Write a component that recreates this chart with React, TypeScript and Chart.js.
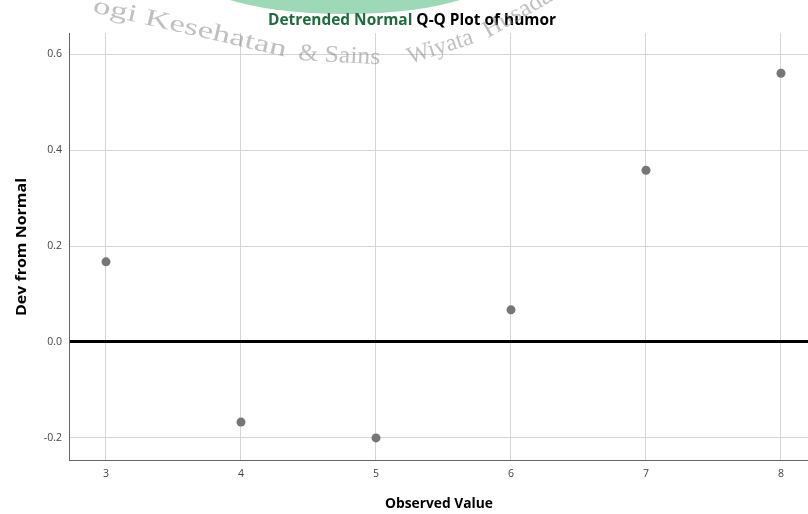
import React, { useEffect, useRef } from "react";
import { Chart, registerables } from "chart.js";

Chart.register(...registerables);

const observed = [3, 4, 5, 6, 7, 8];
const devFromNormal = [0.167, -0.167, -0.2, 0.067, 0.358, 0.56];
const xTicks = [3, 4, 5, 6, 7, 8];
const yTicks = [-0.2, 0, 0.2, 0.4, 0.6];
const yTickLabels = ["-0.2", "0.0", "0.2", "0.4", "0.6"];
const titleGreenPart = "Detrended Normal";
const titleRest = " Q-Q Plot of humor";
const xTitle = "Observed Value";
const yTitle = "Dev from Normal";
const watermarkParts = ["ogi Kesehatan", "& Sains", "Wiyata", "Husada"];

const FONT = '"Open Sans", "DejaVu Sans", sans-serif';

function fitText(ctx: CanvasRenderingContext2D, text: string, x: number, y: number, width: number) {
  const w = ctx.measureText(text).width;
  const s = width / w;
  ctx.save();
  ctx.translate(x, y);
  ctx.scale(s, 1);
  ctx.fillText(text, 0, 0);
  ctx.restore();
}

const decorPlugin = {
  id: "decor",
  afterDraw(chart: any) {
    const ctx = chart.ctx as CanvasRenderingContext2D;
    ctx.save();
    ctx.textBaseline = "alphabetic";
    ctx.textAlign = "left";

    // watermark green crescent
    ctx.save();
    ctx.beginPath();
    ctx.rect(0, 0, 808, 40);
    ctx.clip();
    ctx.fillStyle = "rgba(60,180,110,0.5)";
    ctx.beginPath();
    ctx.ellipse(345, -25, 150, 39, 0, 0, Math.PI * 2);
    ctx.fill();
    ctx.restore();

    // title (first part tinted green by watermark)
    ctx.font = `bold 16px ${FONT}`;
    const full = titleGreenPart + titleRest;
    const fullW = ctx.measureText(full).width;
    const s = 288 / fullW;
    ctx.save();
    ctx.translate(268, 25);
    ctx.scale(s, 1);
    ctx.fillStyle = "#1d6b3e";
    ctx.fillText(titleGreenPart, 0, 0);
    ctx.fillStyle = "#000";
    ctx.fillText(titleRest, ctx.measureText(titleGreenPart).width, 0);
    ctx.restore();

    // x title
    ctx.fillStyle = "#000";
    ctx.font = `bold 15px ${FONT}`;
    fitText(ctx, xTitle, 385, 508, 108);
    // y title
    ctx.save();
    ctx.translate(26, 316);
    ctx.rotate(-Math.PI / 2);
    fitText(ctx, yTitle, 0, 0, 138);
    ctx.restore();

    // watermark text
    ctx.fillStyle = "rgba(130,130,130,0.5)";
    ctx.font = '24px "Liberation Serif", "DejaVu Serif", serif';
    const placements = [
      { x: 92, y: 12, a: 13, w: 198 },
      { x: 298, y: 60, a: 3, w: 82 },
      { x: 410, y: 64, a: -18, w: 68 },
      { x: 488, y: 38, a: -30, w: 76 },
    ];
    watermarkParts.forEach((t, i) => {
      const p = placements[i];
      ctx.save();
      ctx.translate(p.x, p.y);
      ctx.rotate((p.a * Math.PI) / 180);
      fitText(ctx, t, 0, 0, p.w);
      ctx.restore();
    });
    ctx.restore();
  },
};

export default function App() {
  const ref = useRef<HTMLCanvasElement | null>(null);
  useEffect(() => {
    document.body.style.margin = "0";
    const canvas = ref.current!;
    const chart = new Chart(canvas, {
      type: "scatter",
      data: {
        datasets: [
          {
            data: observed.map((x, i) => ({ x, y: devFromNormal[i] })),
            backgroundColor: "#767676",
            borderWidth: 0,
            pointRadius: 4.5,
          },
        ],
      },
      options: {
        responsive: false,
        animation: false,
        layout: { autoPadding: false, padding: { top: 33, right: 0, left: 0, bottom: 0 } },
        plugins: { legend: { display: false }, tooltip: { enabled: false }, title: { display: false } },
        scales: {
          x: {
            type: "linear",
            min: 2.726,
            max: 8.2,
            afterBuildTicks: (s: any) => {
              s.ticks = xTicks.map((v) => ({ value: v }));
            },
            afterFit: (s: any) => {
              s.height = 54;
              s.paddingLeft = 0;
              s.paddingRight = 0;
            },
            ticks: {
              font: { size: 10.5, family: FONT },
              color: "#444",
              padding: 8,
              maxRotation: 0,
              callback: (v: any) => String(v),
            },
            grid: { color: "#d4d4d4", drawTicks: false, lineWidth: 1 },
            border: { color: "#666", width: 1 },
          },
          y: {
            type: "linear",
            min: -0.246,
            max: 0.644,
            afterBuildTicks: (s: any) => {
              s.ticks = yTicks.map((v) => ({ value: v }));
            },
            afterFit: (s: any) => {
              s.width = 69;
              s.paddingTop = 0;
              s.paddingBottom = 0;
            },
            ticks: {
              font: { size: 10.5, family: FONT },
              color: "#444",
              padding: 7,
              callback: (v: any) => {
                const i = yTicks.findIndex((t) => Math.abs(t - v) < 1e-9);
                return i >= 0 ? yTickLabels[i] : "";
              },
            },
            grid: {
              drawTicks: false,
              color: (c: any) => (c.tick && Math.abs(c.tick.value) < 1e-9 ? "#000" : "#d4d4d4"),
              lineWidth: (c: any) => (c.tick && Math.abs(c.tick.value) < 1e-9 ? 3 : 1),
            },
            border: { color: "#666", width: 1 },
          },
        },
      },
      plugins: [decorPlugin],
    } as any);
    return () => chart.destroy();
  }, []);
  return (
    <div style={{ position: "absolute", left: 0, top: 0, width: 808, height: 514, background: "#fff" }}>
      <canvas ref={ref} width={808} height={514} style={{ display: "block" }} />
    </div>
  );
}
